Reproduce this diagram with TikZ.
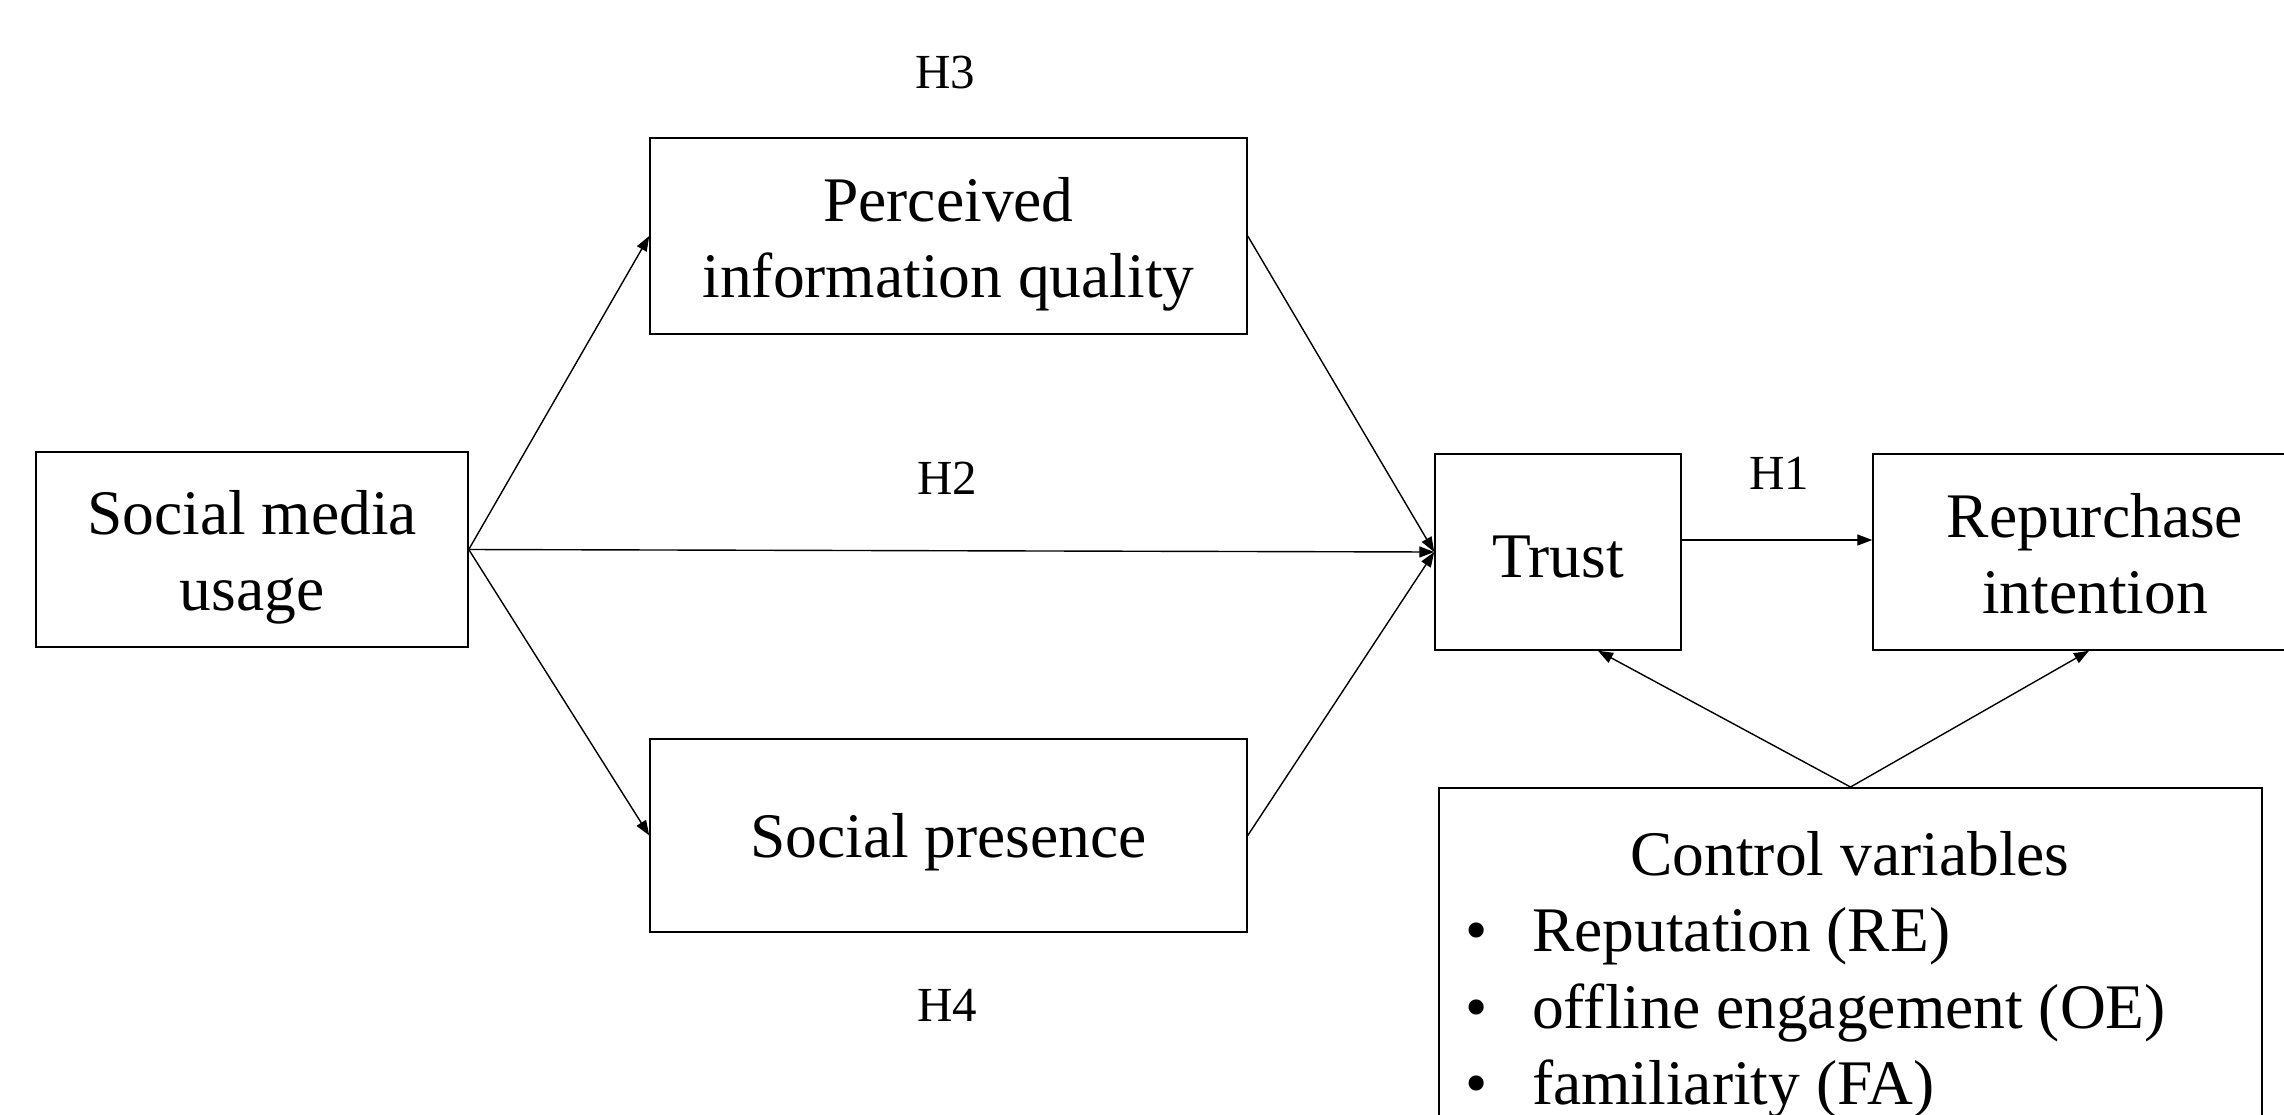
\documentclass[tikz,border=0pt]{standalone}
\usepackage{fontspec}
\setmainfont{Liberation Serif}
\usetikzlibrary{arrows.meta}
\newcommand\lnstrut{\rule[-0.086em]{0pt}{0.977em}}
\newcommand\twoline[2]{\raisebox{-8pt}[\height][\depth]{\begin{tabular}{@{}c@{}}#1\\#2\end{tabular}}}
\begin{document}
\begin{tikzpicture}[x=1pt,y=-1pt,
  boxnode/.style={draw, line width=1.5pt, align=center, inner sep=0pt,
    font=\fontsize{63.5}{76}\selectfont},
  hlabel/.style={font=\fontsize{49}{58}\selectfont, inner sep=0pt},
  itemtext/.style={font=\fontsize{63.5}{77}\selectfont, inner sep=0pt, anchor=base west},
  conn/.style={line width=1.4pt, -{Triangle[length=15pt,width=11pt]}}]
\useasboundingbox (0,0) rectangle (2284,1114);
\node[boxnode, minimum width=432pt, minimum height=195pt] (smu) at (252,549.5) {\twoline{Social media}{usage}};
\node[boxnode, minimum width=597pt, minimum height=196pt] (piq) at (948.5,236) {\twoline{Perceived}{information quality}};
\node[boxnode, minimum width=597pt, minimum height=193pt] (sp) at (948.5,835.5) {\lnstrut Social presence};
\node[boxnode, minimum width=246pt, minimum height=196pt] (trust) at (1558,552) {\lnstrut Trust};
\node[boxnode, minimum width=444pt, minimum height=196pt] (ri) at (2095,552) {\twoline{Repurchase}{intention}};
\node[draw, line width=1.5pt, minimum width=823pt, minimum height=380pt, anchor=north, inner sep=0pt] (ctrl) at (1850.5,787) {};
\node[font=\fontsize{63.5}{77}\selectfont, inner sep=0pt, anchor=base] (ctitle) at (1850,875) {Control variables};
\node[itemtext] (b1) at (1465,951) {•};
\node[itemtext] (i1) at (1532,951) {Reputation (RE)};
\node[itemtext] (b2) at (1465,1028) {•};
\node[itemtext] (i2) at (1532,1028) {offline engagement (OE)};
\node[itemtext] (b3) at (1465,1104) {•};
\node[itemtext] (i3) at (1532,1104) {familiarity (FA)};
\node[hlabel] (h3) at (945,73) {H3};
\node[hlabel] (h2) at (947,478) {H2};
\node[hlabel] (h4) at (947,1005) {H4};
\node[hlabel] (h1) at (1779,473) {H1};
\draw[conn] (smu.east) -- (piq.west);
\draw[conn] (smu.east) -- (sp.west);
\draw[conn] (smu.east) -- (trust.west);
\draw[conn] (piq.east) -- (trust.west);
\draw[conn] (sp.east) -- (trust.west);
\draw[conn] ([yshift=12pt]trust.east) -- ([yshift=12pt]trust.east -| ri.west);
\draw[conn] (ctrl.north) -- ([xshift=40pt]trust.south);
\draw[conn] (ctrl.north) -- ([xshift=-6pt]ri.south);
\end{tikzpicture}
\end{document}
